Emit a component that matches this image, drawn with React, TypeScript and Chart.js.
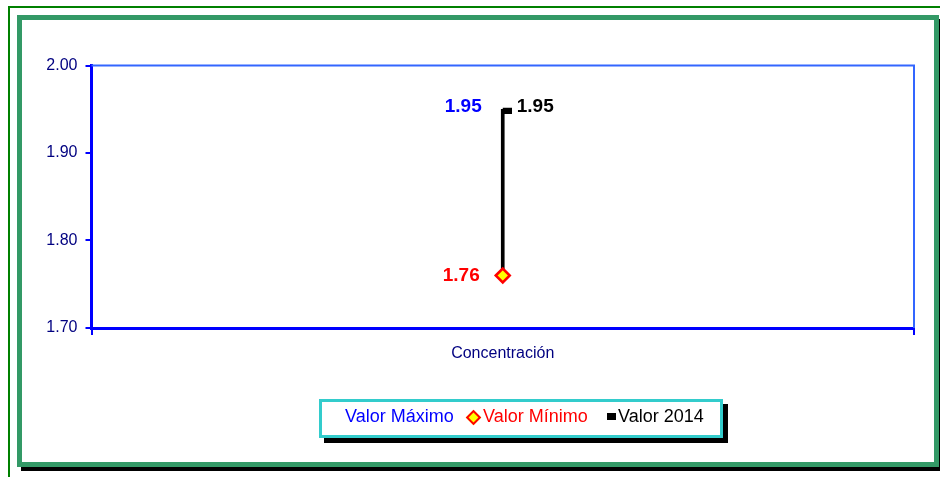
import React, { useEffect, useRef } from "react";
import { Chart, registerables } from "chart.js";

Chart.register(...registerables);

// ---- data ----
const categories = ["Concentración"];
const seriesNames = ["Valor Máximo", "Valor Mínimo", "Valor 2014"];
const valorMaximo = [1.95];
const valorMinimo = [1.76];
const valor2014 = [1.95];
const yTicks = [1.7, 1.8, 1.9, 2.0];

const FONT = "'Liberation Sans', Arial, sans-serif";
const NAVY = "#000080";
const BLUE = "#0000FF";
const RED = "#FF0000";

export default function App() {
  const canvasRef = useRef<HTMLCanvasElement | null>(null);

  useEffect(() => {
    const canvas = canvasRef.current;
    if (!canvas) return;

    // custom "close" tick marker: black rectangle on the right of the line
    const closeMarker = document.createElement("canvas");
    closeMarker.width = 18;
    closeMarker.height = 9;
    const mctx = closeMarker.getContext("2d");
    if (mctx) {
      mctx.fillStyle = "#000";
      mctx.fillRect(9, 3, 9, 6);
    }

    const framePlugin = {
      id: "plotFrame",
      beforeDatasetsDraw(chart: any) {
        const { ctx, chartArea } = chart;
        ctx.save();
        ctx.strokeStyle = "#3366FF";
        ctx.lineWidth = 2;
        ctx.beginPath();
        ctx.moveTo(chartArea.left, chartArea.top);
        ctx.lineTo(chartArea.right, chartArea.top);
        ctx.lineTo(chartArea.right, chartArea.bottom);
        ctx.stroke();
        ctx.restore();
      },
    };

    const labelPlugin = {
      id: "valueLabels",
      afterDatasetsDraw(chart: any) {
        const ctx = chart.ctx;
        const specs = [
          { ds: 1, color: BLUE, align: "right", dx: -21, dy: -2 },
          { ds: 2, color: RED, align: "right", dx: -23, dy: 0 },
          { ds: 3, color: "#000000", align: "left", dx: 14, dy: -2 },
        ];
        ctx.save();
        ctx.font = `bold 19px ${FONT}`;
        ctx.textBaseline = "middle";
        specs.forEach((s) => {
          const meta = chart.getDatasetMeta(s.ds);
          const ds = chart.data.datasets[s.ds];
          meta.data.forEach((pt: any, i: number) => {
            const v = ds.data[i] as number;
            ctx.fillStyle = s.color;
            ctx.textAlign = s.align;
            ctx.fillText(v.toFixed(2), pt.x + s.dx, pt.y + s.dy);
          });
        });
        ctx.restore();
      },
    };

    const chart = new Chart(canvas, {
      type: "bar",
      data: {
        labels: categories,
        datasets: [
          {
            type: "bar",
            label: "hl",
            data: valorMinimo.map((v, i) => [v, valorMaximo[i]]) as any,
            backgroundColor: "#000000",
            borderWidth: 0,
            barThickness: 3,
            order: 10,
          } as any,
          {
            type: "line",
            label: seriesNames[0],
            data: valorMaximo,
            showLine: false,
            pointRadius: 0,
            pointHoverRadius: 0,
            borderColor: BLUE,
            backgroundColor: BLUE,
            order: 3,
          },
          {
            type: "line",
            label: seriesNames[1],
            data: valorMinimo,
            showLine: false,
            pointStyle: "rectRot",
            pointRadius: 7,
            pointBorderWidth: 2.5,
            pointBackgroundColor: "#FFFF00",
            pointBorderColor: RED,
            order: 1,
          },
          {
            type: "line",
            label: seriesNames[2],
            data: valor2014,
            showLine: false,
            pointStyle: closeMarker as any,
            pointRadius: 5,
            order: 2,
          },
        ],
      },
      options: {
        responsive: false,
        animation: false,
        events: [],
        layout: { padding: { left: 0, top: 65.5, right: 26, bottom: 109 } },
        plugins: {
          legend: { display: false },
          tooltip: { enabled: false },
        },
        scales: {
          x: {
            offset: true,
            grid: {
              offset: true,
              drawOnChartArea: false,
              drawTicks: true,
              tickLength: 7,
              color: BLUE,
              lineWidth: 2,
            },
            border: { display: true, color: BLUE, width: 3 },
            ticks: {
              color: NAVY,
              font: { family: FONT, size: 16 },
              padding: 9,
            },
            afterFit: (scale: any) => {
              scale.height = 40;
            },
          },
          y: {
            min: 1.7,
            max: 2.0,
            afterBuildTicks: (scale: any) => {
              scale.ticks = yTicks.map((v) => ({ value: v }));
            },
            grid: {
              drawOnChartArea: false,
              drawTicks: true,
              tickLength: 6,
              color: BLUE,
              lineWidth: 2,
            },
            border: { display: true, color: BLUE, width: 3 },
            ticks: {
              color: NAVY,
              font: { family: FONT, size: 16 },
              padding: 8,
              callback: (v: any) => Number(v).toFixed(2),
            },
            afterFit: (scale: any) => {
              scale.width = 91.5;
            },
          },
        },
      },
      plugins: [framePlugin, labelPlugin],
    });

    return () => chart.destroy();
  }, []);

  const textStyle: React.CSSProperties = {
    position: "absolute",
    top: 4,
    fontFamily: FONT,
    fontSize: 18,
    lineHeight: "20px",
    whiteSpace: "nowrap",
  };

  return (
    <div
      style={{
        position: "absolute",
        left: 0,
        top: 0,
        width: 940,
        height: 477,
        background: "#fff",
        overflow: "hidden",
      }}
    >
      {/* outer thin green lines */}
      <div
        style={{
          position: "absolute",
          left: 8,
          top: 6,
          width: 940,
          height: 480,
          borderTop: "2px solid #008000",
          borderLeft: "2px solid #008000",
          boxSizing: "border-box",
        }}
      />
      {/* inner thick frame */}
      <div
        style={{
          position: "absolute",
          left: 17,
          top: 15,
          width: 922,
          height: 452,
          border: "5px solid #339966",
          boxSizing: "border-box",
          boxShadow: "4px 4px 0 #000",
          background: "#fff",
        }}
      />
      <canvas
        ref={canvasRef}
        width={940}
        height={477}
        style={{ position: "absolute", left: 0, top: 0, width: 940, height: 477 }}
      />
      {/* legend */}
      <div
        style={{
          position: "absolute",
          left: 319,
          top: 399,
          width: 404,
          height: 39,
          border: "3px solid #33CCCC",
          boxSizing: "border-box",
          boxShadow: "5px 5px 0 #000",
          background: "#fff",
        }}
      >
        <span style={{ ...textStyle, left: 23, color: BLUE }}>{seriesNames[0]}</span>
        <span
          style={{
            position: "absolute",
            left: 145.5,
            top: 9.5,
            width: 11,
            height: 11,
            boxSizing: "border-box",
            background: "#FFFF00",
            border: "2.5px solid " + RED,
            transform: "rotate(45deg)",
          }}
        />
        <span style={{ ...textStyle, left: 161, color: RED }}>{seriesNames[1]}</span>
        <span
          style={{
            position: "absolute",
            left: 285,
            top: 11,
            width: 9,
            height: 7,
            background: "#000",
          }}
        />
        <span style={{ ...textStyle, left: 296, color: "#000" }}>{seriesNames[2]}</span>
      </div>
    </div>
  );
}
